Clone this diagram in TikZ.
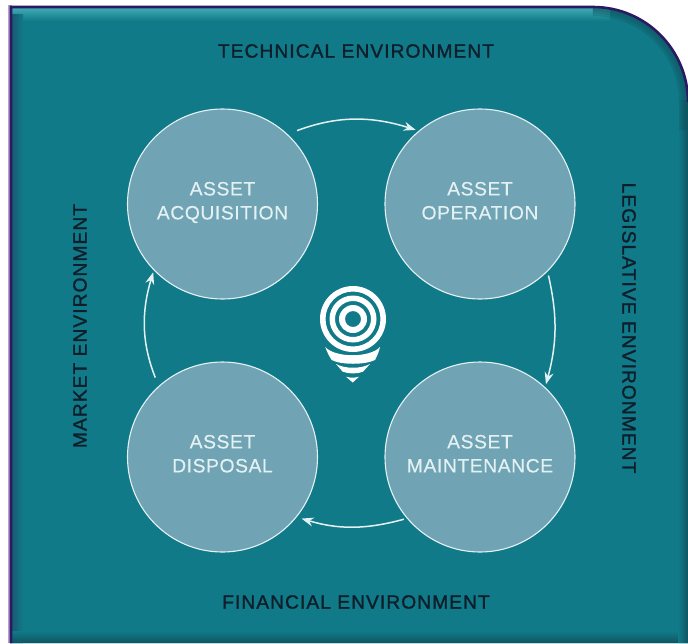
\documentclass[tikz,border=0pt]{standalone}
\usepackage{fontspec}
\setmainfont{Liberation Sans}
\newfontfamily\stagefont[LetterSpace=3,FakeBold=0.3]{Liberation Sans}
\newfontfamily\envfont[LetterSpace=5.5,FakeBold=1.4]{Liberation Sans}
\usetikzlibrary{arrows.meta,shadings}
\definecolor{panel}{HTML}{107A88}
\definecolor{edgepurple}{HTML}{2A1A62}
\definecolor{lav}{HTML}{B7A0D0}
\definecolor{disc}{HTML}{70A4B4}
\definecolor{ringc}{HTML}{E4F1F3}
\definecolor{inktxt}{HTML}{0E1F2B}
\definecolor{bright}{HTML}{3FAAB2}
\definecolor{deep}{HTML}{1A5570}
\definecolor{low}{HTML}{0F5560}
\tikzset{
  x=1pt,y=-1pt,
  stage/.style={circle,draw=ringc,line width=1.1pt,fill=disc,minimum size=190pt,inner sep=0pt},
  stagetext/.style={text=ringc,font=\stagefont\fontsize{19.3}{24}\selectfont,align=center,yshift=1.5pt},
  envtext/.style={text=inktxt,font=\envfont\fontsize{19.2}{20}\selectfont},
  flow/.style={draw=ringc,line width=1.5pt,-{Stealth[length=12pt,width=9pt]}},
  pinwhite/.style={fill=white,draw=none},
}
\newcommand{\cornerpart}{(593,7) .. controls (645.5,7) and (688,49.5) .. (688,102)}
\newcommand{\panelpath}{(10,7) -- \cornerpart -- (688,643) -- (10,643) -- cycle}
\begin{document}
\begin{tikzpicture}
\useasboundingbox (0,0) rectangle (688,643);
\fill[white] (0,0) rectangle (688,643);
\fill[lav] (8,5) rectangle (12,643);
\fill[panel] \panelpath;
\begin{scope}
  \clip \panelpath;
  \shade[top color=bright,bottom color=panel] (10,8) rectangle (610,21);
  \shade[left color=deep,right color=panel] (10,14) rectangle (23,643);
  \shade[top color=panel,bottom color=low] (10,631) rectangle (688,643);
  \shade[left color=panel,right color=low] (678,100) rectangle (688,643);
  \foreach \w in {18,13,8}{
    \draw[low,opacity=.28,line width=\w pt] \cornerpart -- (688,130);
  }
\end{scope}
\draw[edgepurple,line width=2.6pt] (11,643) -- (11,7) -- \cornerpart;

\node[stage,label={[stagetext]center:ASSET\\ACQUISITION\vphantom{Q}}] (acq) at (222.5,204) {};
\node[stage,label={[stagetext]center:ASSET\\OPERATION\vphantom{Q}}] (ope) at (480,204) {};
\node[stage,label={[stagetext]center:ASSET\\DISPOSAL\vphantom{Q}}] (dis) at (222.5,457) {};
\node[stage,label={[stagetext]center:ASSET\\MAINTENANCE\vphantom{Q}}] (mai) at (480,457) {};

\draw[flow,shorten <=10pt,shorten >=3pt] (acq.47) to[bend left=19] (ope.130);
\draw[flow,shorten <=4pt,shorten >=3pt] (ope.-45) to[bend left=14] (mai.47);
\draw[flow,shorten <=3pt,shorten >=5pt] (mai.-140) to[bend left=16] (dis.-39);
\draw[flow,shorten <=9pt,shorten >=2pt] (dis.132) to[bend left=19] (acq.-136);

\node[envtext] (tech) at (356,51) {TECHNICAL ENVIRONMENT};
\node[envtext] (fin) at (356,602) {FINANCIAL ENVIRONMENT};
\node[envtext,rotate=90] (mar) at (80,326) {MARKET ENVIRONMENT};
\node[envtext,rotate=-90] (leg) at (629,328) {LEGISLATIVE ENVIRONMENT};

% location pin emblem
\fill[pinwhite,even odd rule] (353,319) circle[radius=33] (353,319) circle[radius=27.5]
  (353,319) circle[radius=23.5] (353,319) circle[radius=18]
  (353,319) circle[radius=14] (353,319) circle[radius=8];
\fill[pinwhite] (325.3,347) .. controls (335,358) and (370,358) .. (380,347)
  .. controls (379,352) and (377,356) .. (375,360)
  .. controls (365,365) and (341,365) .. (331.7,360)
  .. controls (329,356) and (327,352) .. (325.3,347) -- cycle;
\fill[pinwhite] (336,364) .. controls (345,369) and (361,369) .. (370,364)
  -- (363,371.7) .. controls (357,374) and (349,374) .. (342.7,371.7) -- cycle;
\fill[pinwhite] (346,376.7) .. controls (350,378) and (355,378) .. (359,376.7) -- (352.7,382.5) -- cycle;
\end{tikzpicture}
\end{document}
